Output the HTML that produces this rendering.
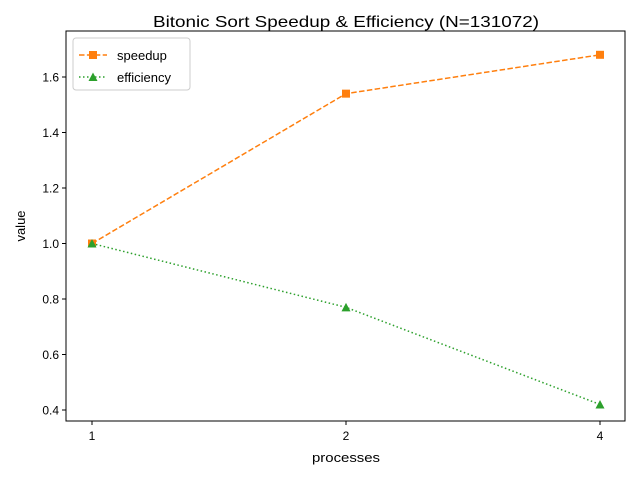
<!DOCTYPE html>
<html><head><meta charset="utf-8"><style>
body{margin:0;background:#fff;}
svg{display:block;font-family:"Liberation Sans","DejaVu Sans",sans-serif;}
</style></head><body>
<svg id="chart" width="640" height="480" xmlns="http://www.w3.org/2000/svg">
<rect width="640" height="480" fill="#fff"/>
<text x="346" y="27" text-anchor="middle" font-size="16" textLength="386" lengthAdjust="spacingAndGlyphs">Bitonic Sort Speedup &amp; Efficiency (N=131072)</text>
<g id="axes"></g>
<g id="marks"></g>
<rect x="66" y="31" width="559" height="390" fill="none" stroke="#000" stroke-width="1"/>
<text x="346" y="462" text-anchor="middle" font-size="13" textLength="68" lengthAdjust="spacingAndGlyphs">processes</text>
<text x="25" y="226" text-anchor="middle" font-size="13" transform="rotate(-90 25 226)">value</text>
<g>
<rect x="73" y="38" width="117" height="52" rx="3" fill="#fff" stroke="#ccc"/>
<line x1="79" y1="55" x2="107" y2="55" stroke="#ff7f0e" stroke-width="1.5" stroke-dasharray="5.5,2.4"/>
<rect x="89" y="51" width="8" height="8" fill="#ff7f0e"/>
<text x="117" y="60" font-size="13">speedup</text>
<line x1="79" y1="77" x2="107" y2="77" stroke="#2ca02c" stroke-width="1.5" stroke-dasharray="1.5,2.5"/>
<polygon points="93,72.5 97.5,81 88.5,81" fill="#2ca02c"/>
<text x="117" y="82" font-size="13">efficiency</text>
</g>
</svg>
<script>
const categories = ["1","2","4"];
const speedup = [1.0, 1.54, 1.68];
const efficiency = [1.0, 0.77, 0.42];
const yTicks = [0.4, 0.6, 0.8, 1.0, 1.2, 1.4, 1.6];

const NS = "http://www.w3.org/2000/svg";
const x = i => 92 + i * 254;
const y = v => 410 - (v - 0.4) * 277.5;
function mk(tag, attrs, parent) {
  const e = document.createElementNS(NS, tag);
  for (const k in attrs) e.setAttribute(k, attrs[k]);
  parent.appendChild(e);
  return e;
}
const axes = document.getElementById('axes');
const marks = document.getElementById('marks');
categories.forEach((c, i) => {
  const t = mk('line', {x1: x(i), x2: x(i), y1: 421, y2: 425, stroke: '#000'}, axes);
  
  
  const l = mk('text', {x: x(i), y: 440, 'text-anchor': 'middle', 'font-size': 12}, axes);
  l.textContent = c;
  
  
});
yTicks.forEach(v => {
  const t = mk('line', {x1: 62, x2: 66, y1: y(v), y2: y(v), stroke: '#000'}, axes);
  
  
  const l = mk('text', {x: 59, y: y(v) + 4.5, 'text-anchor': 'end', 'font-size': 12}, axes);
  l.textContent = v.toFixed(1);
  
  
});
const sp = mk('polyline', {points: speedup.map((v, i) => x(i) + ',' + y(v)).join(' '), fill: 'none', stroke: '#ff7f0e', 'stroke-width': 1.5, 'stroke-dasharray': '5.5,2.4'}, marks);


speedup.forEach((v, i) => {
  const m = mk('rect', {x: x(i) - 4, y: y(v) - 4, width: 8, height: 8, fill: '#ff7f0e'}, marks);
  
  
});
const ef = mk('polyline', {points: efficiency.map((v, i) => x(i) + ',' + y(v)).join(' '), fill: 'none', stroke: '#2ca02c', 'stroke-width': 1.5, 'stroke-dasharray': '1.5,2.5'}, marks);


efficiency.forEach((v, i) => {
  const cx = x(i), cy = y(v);
  const m = mk('polygon', {points: `${cx},${cy - 4.5} ${cx + 4.5},${cy + 4} ${cx - 4.5},${cy + 4}`, fill: '#2ca02c'}, marks);
  
  
});
</script>
</body></html>
